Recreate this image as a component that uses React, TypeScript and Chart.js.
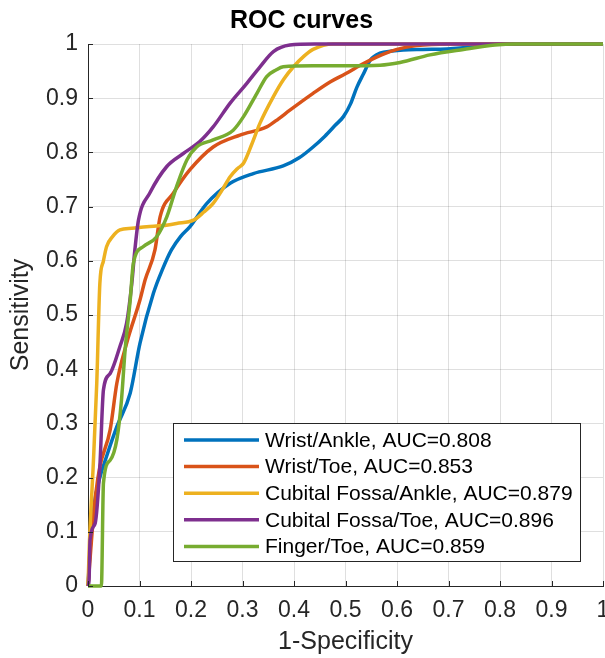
import React, { useEffect, useRef } from "react";
import { Chart, registerables } from "chart.js";

Chart.register(...registerables);

const seriesLabels = [
  "Wrist/Ankle, AUC=0.808",
  "Wrist/Toe, AUC=0.853",
  "Cubital Fossa/Ankle, AUC=0.879",
  "Cubital Fossa/Toe, AUC=0.896",
  "Finger/Toe, AUC=0.859",
];
const seriesColors = ["#0072BD", "#D95319", "#EDB120", "#7E2F8E", "#77AC30"];

const wristAnkleFpr = [0, 0.005, 0.012, 0.023, 0.036, 0.056, 0.082, 0.101, 0.127, 0.145, 0.162, 0.18, 0.198, 0.23, 0.276, 0.321, 0.379, 0.41, 0.437, 0.46, 0.48, 0.496, 0.51, 0.522, 0.535, 0.548, 0.567, 0.59, 0.612, 0.65, 0.697, 0.75, 0.79, 0.85, 1];
const wristAnkleTpr = [0, 0.08, 0.15, 0.2, 0.239, 0.294, 0.356, 0.448, 0.54, 0.585, 0.62, 0.645, 0.663, 0.705, 0.743, 0.761, 0.775, 0.79, 0.81, 0.83, 0.85, 0.866, 0.89, 0.92, 0.945, 0.97, 0.983, 0.987, 0.989, 0.99, 0.991, 0.995, 1, 1, 1];

const wristToeFpr = [0, 0.008, 0.015, 0.023, 0.043, 0.056, 0.075, 0.101, 0.111, 0.13, 0.14, 0.166, 0.198, 0.243, 0.295, 0.347, 0.37, 0.392, 0.437, 0.47, 0.5, 0.535, 0.57, 0.6, 0.638, 0.7, 1];
const wristToeTpr = [0, 0.1, 0.17, 0.22, 0.288, 0.374, 0.448, 0.528, 0.565, 0.62, 0.681, 0.725, 0.768, 0.81, 0.832, 0.847, 0.862, 0.878, 0.909, 0.93, 0.945, 0.964, 0.98, 0.99, 0.997, 1, 1];

const cubitalAnkleFpr = [0, 0.003, 0.01, 0.017, 0.023, 0.03, 0.036, 0.048, 0.062, 0.085, 0.114, 0.145, 0.172, 0.205, 0.225, 0.243, 0.26, 0.276, 0.29, 0.302, 0.318, 0.334, 0.36, 0.38, 0.399, 0.42, 0.437, 0.476, 1];
const cubitalAnkleTpr = [0, 0.085, 0.22, 0.374, 0.558, 0.6, 0.626, 0.645, 0.657, 0.66, 0.663, 0.665, 0.669, 0.675, 0.69, 0.706, 0.73, 0.755, 0.77, 0.78, 0.815, 0.854, 0.903, 0.935, 0.958, 0.978, 0.99, 1, 1];

const cubitalToeFpr = [0, 0.002, 0.004, 0.014, 0.023, 0.03, 0.043, 0.062, 0.075, 0.085, 0.091, 0.098, 0.12, 0.153, 0.185, 0.217, 0.243, 0.276, 0.308, 0.334, 0.36, 0.392, 0.44, 1];
const cubitalToeTpr = [0, 0.01, 0.085, 0.116, 0.22, 0.362, 0.392, 0.442, 0.485, 0.558, 0.62, 0.675, 0.725, 0.774, 0.798, 0.82, 0.847, 0.891, 0.927, 0.958, 0.986, 0.998, 1, 1];

const fingerToeFpr = [0, 0.026, 0.03, 0.043, 0.056, 0.065, 0.072, 0.082, 0.088, 0.107, 0.133, 0.153, 0.172, 0.192, 0.211, 0.243, 0.282, 0.302, 0.328, 0.347, 0.365, 0.379, 0.437, 0.5, 0.567, 0.606, 0.664, 0.729, 0.79, 0.83, 1];
const fingerToeTpr = [0, 0, 0.19, 0.232, 0.27, 0.343, 0.435, 0.528, 0.595, 0.626, 0.644, 0.681, 0.737, 0.786, 0.81, 0.823, 0.841, 0.866, 0.909, 0.94, 0.952, 0.958, 0.96, 0.96, 0.961, 0.966, 0.98, 0.99, 0.998, 1, 1];

const seriesFpr = [wristAnkleFpr, wristToeFpr, cubitalAnkleFpr, cubitalToeFpr, fingerToeFpr];
const seriesTpr = [wristAnkleTpr, wristToeTpr, cubitalAnkleTpr, cubitalToeTpr, fingerToeTpr];

const tickValues = [0, 0.1, 0.2, 0.3, 0.4, 0.5, 0.6, 0.7, 0.8, 0.9, 1];
const chartTitle = "ROC curves";
const xTitle = "1-Specificity";
const yTitle = "Sensitivity";

const FONT = "'Liberation Sans', Arial, Helvetica, sans-serif";
const AXIS_COLOR = "#262626";
const LINE_WIDTH = 3.5;

const extrasPlugin = {
  id: "matlabExtras",
  afterDraw(chart: any) {
    const ctx = chart.ctx;
    const area = chart.chartArea;
    const xs = chart.scales.x;
    const ys = chart.scales.y;
    ctx.save();
    // inward ticks
    ctx.strokeStyle = AXIS_COLOR;
    ctx.lineWidth = 1;
    ctx.beginPath();
    tickValues.forEach((v) => {
      const px = Math.round(xs.getPixelForValue(v)) + 0.5;
      ctx.moveTo(px, area.bottom);
      ctx.lineTo(px, area.bottom - 5);
      const py = Math.round(ys.getPixelForValue(v)) + 0.5;
      ctx.moveTo(area.left, py);
      ctx.lineTo(area.left + 5, py);
    });
    ctx.stroke();

    // legend
    const bx = 173.5, by = 423.5, bw = 407, bh = 138;
    ctx.fillStyle = "#ffffff";
    ctx.fillRect(bx, by, bw, bh);
    ctx.strokeStyle = AXIS_COLOR;
    ctx.lineWidth = 1;
    ctx.strokeRect(bx, by, bw, bh);
    ctx.font = `21px ${FONT}`;
    ctx.textBaseline = "middle";
    ctx.textAlign = "left";
    seriesLabels.forEach((lab, i) => {
      const y = 440 + i * 26.6;
      ctx.strokeStyle = seriesColors[i];
      ctx.lineWidth = LINE_WIDTH;
      ctx.beginPath();
      ctx.moveTo(184, y);
      ctx.lineTo(259, y);
      ctx.stroke();
      ctx.fillStyle = "#000000";
      ctx.fillText(lab, 265, y + 1);
    });
    ctx.restore();
  },
};

export default function App() {
  const canvasRef = useRef<HTMLCanvasElement | null>(null);

  useEffect(() => {
    if (!canvasRef.current) return;
    const datasets = seriesLabels.map((lab, i) => ({
      label: lab,
      data: seriesFpr[i].map((x, j) => ({ x, y: seriesTpr[i][j] })),
      borderColor: seriesColors[i],
      backgroundColor: seriesColors[i],
      borderWidth: LINE_WIDTH,
      pointRadius: 0,
      fill: false,
      cubicInterpolationMode: "monotone" as const,
      order: 5 - i,
      clip: false as any,
    }));
    const chart = new Chart(canvasRef.current, {
      type: "line",
      data: { datasets },
      options: {
        animation: false,
        responsive: false,
        maintainAspectRatio: false,
        layout: { padding: { left: 0, right: 2, top: 0, bottom: 0 } },
        plugins: {
          legend: { display: false },
          tooltip: { enabled: false },
          title: {
            display: true,
            text: chartTitle,
            color: "#000000",
            font: { family: FONT, size: 25, weight: "bold" },
            padding: { top: 6, bottom: 8 },
          },
        },
        scales: {
          x: {
            type: "linear",
            min: 0,
            max: 1,
            afterBuildTicks: (scale: any) => {
              scale.ticks = tickValues.map((v) => ({ value: v }));
            },
            afterFit: (scale: any) => {
              scale.height = 72;
              scale.paddingLeft = 0;
              scale.paddingRight = 0;
            },
            ticks: {
              color: AXIS_COLOR,
              font: { family: FONT, size: 23 },
              padding: 11,
              maxRotation: 0,
              autoSkip: false,
              callback: (v: any) => String(Math.round(Number(v) * 10) / 10),
            },
            grid: { color: "rgba(38,38,38,0.15)", lineWidth: 1, drawTicks: false },
            border: { display: true, color: AXIS_COLOR, width: 1 },
            title: {
              display: true,
              text: xTitle,
              color: AXIS_COLOR,
              font: { family: FONT, size: 25 },
              padding: { top: 0, bottom: 1 },
            },
          },
          y: {
            type: "linear",
            min: 0,
            max: 1,
            afterBuildTicks: (scale: any) => {
              scale.ticks = tickValues.map((v) => ({ value: v }));
            },
            afterFit: (scale: any) => {
              scale.width = 88;
              scale.paddingTop = 0;
              scale.paddingBottom = 0;
            },
            ticks: {
              color: AXIS_COLOR,
              font: { family: FONT, size: 23 },
              padding: 10,
              autoSkip: false,
              callback: (v: any) => String(Math.round(Number(v) * 10) / 10),
            },
            grid: { color: "rgba(38,38,38,0.15)", lineWidth: 1, drawTicks: false },
            border: { display: true, color: AXIS_COLOR, width: 1 },
            title: {
              display: true,
              text: yTitle,
              color: AXIS_COLOR,
              font: { family: FONT, size: 25 },
              padding: { top: 6, bottom: 0 },
            },
          },
        },
      },
      plugins: [extrasPlugin],
    });
    return () => chart.destroy();
  }, []);

  return (
    <div style={{ position: "fixed", left: 0, top: 0, width: 605, height: 658, background: "#ffffff" }}>
      <canvas ref={canvasRef} width={605} height={658} style={{ width: 605, height: 658 }} />
    </div>
  );
}
